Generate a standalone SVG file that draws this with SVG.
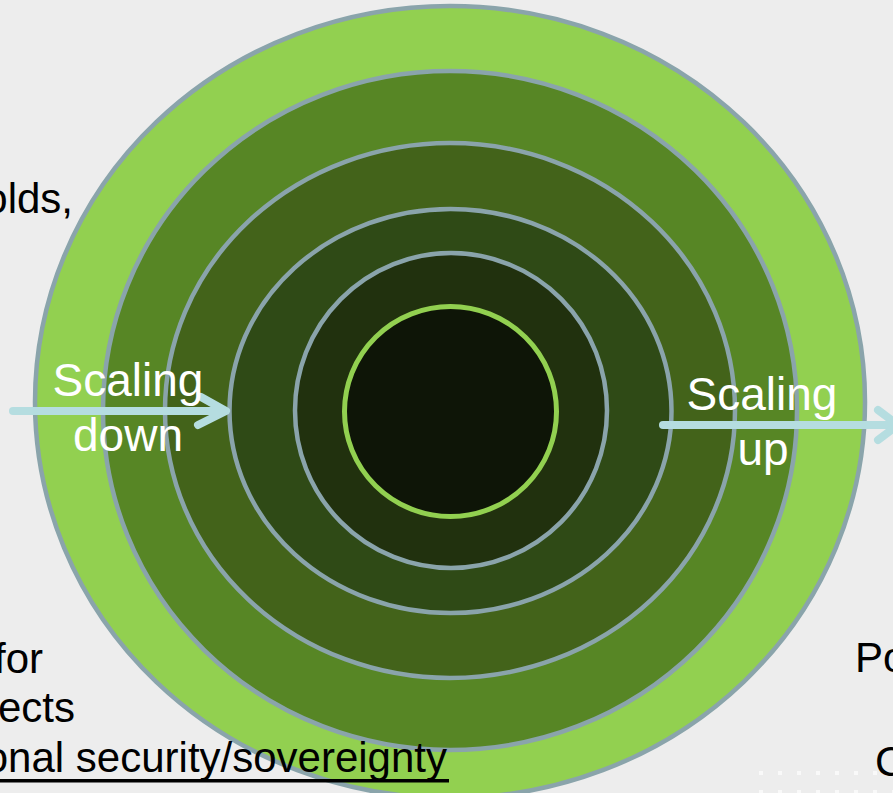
<svg xmlns="http://www.w3.org/2000/svg" width="893" height="793" viewBox="0 0 893 793">
  <defs>
    <style>
      .ring { stroke: #8aa4ab; stroke-width: 4.5; }
      .lbl { font-family: "Liberation Sans", Arial, sans-serif; font-size: 42px; fill: #000; }
      .scale { font-family: "Liberation Sans", Arial, sans-serif; font-size: 46px; fill: #fff; text-anchor: middle; }
      .arrow { fill: none; stroke: #b5dde0; stroke-width: 8; stroke-linecap: round; stroke-linejoin: round; }
    </style>
    <pattern id="dots" x="759" y="771" width="19" height="19" patternUnits="userSpaceOnUse">
      <rect x="0" y="0" width="4" height="4" fill="#f9f9f9"/>
    </pattern>
  </defs>
  <rect x="0" y="0" width="893" height="793" fill="#ededed"/>
  <rect x="759" y="771" width="134" height="22" fill="url(#dots)"/>

  <g id="ring-outer"><ellipse class="ring" cx="450" cy="402" rx="415" ry="396" fill="#92d050"/></g>
  <g id="ring-2"><ellipse class="ring" cx="450" cy="410.5" rx="347" ry="339.5" fill="#578625"/></g>
  <g id="ring-3"><ellipse class="ring" cx="450" cy="410.5" rx="285" ry="267.5" fill="#43631a"/></g>
  <g id="ring-4"><ellipse class="ring" cx="450.5" cy="411" rx="221" ry="202" fill="#2f4a16"/></g>
  <g id="ring-5"><ellipse class="ring" cx="451" cy="410.5" rx="156" ry="157.5" fill="#21310e"/></g>
  <g id="core"><ellipse cx="450.5" cy="411.5" rx="106" ry="105" fill="#0e1507" stroke="#92d050" stroke-width="5"/></g>

  <g id="texts-left">
    <text class="lbl" x="73" y="213" text-anchor="end">olds,</text>
    <text class="lbl" x="43" y="673" text-anchor="end">for</text>
    <text class="lbl" x="75" y="722" text-anchor="end">ects</text>
    <text class="lbl" x="447" y="772" text-anchor="end">onal security/sovereignty</text>
    <rect x="0" y="779" width="449" height="3.5" fill="#000"/>
  </g>
  <g id="texts-right">
    <text class="lbl" x="855" y="672">Po</text>
    <text class="lbl" x="875" y="776">C</text>
  </g>

  <g id="connectors">
    <path class="arrow" d="M13 411 H224"/>
    <path class="arrow" d="M201 397 L226 411 L198 425"/>
    <path class="arrow" d="M663 425 H896"/>
    <path class="arrow" d="M878 410 L898 425 L878 440"/>
  </g>

  <g id="scaling-down">
    <text class="scale" x="128" y="396">Scaling</text>
    <text class="scale" x="128" y="451">down</text>
  </g>
  <g id="scaling-up">
    <text class="scale" x="762" y="410">Scaling</text>
    <text class="scale" x="763" y="465">up</text>
  </g>
</svg>
